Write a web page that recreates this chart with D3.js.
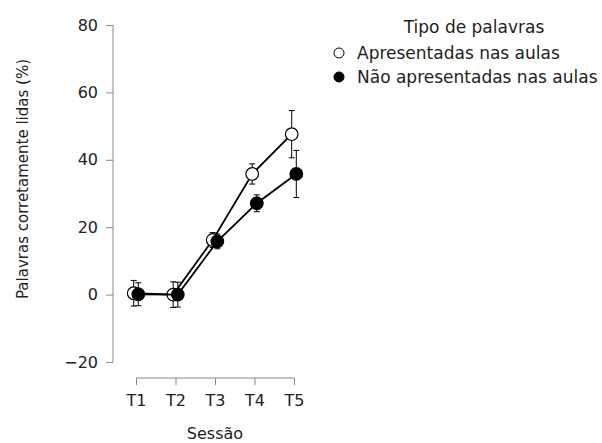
<!DOCTYPE html>
<html>
<head>
<meta charset="utf-8">
<script src="https://cdn.jsdelivr.net/npm/d3@7"></script>
<style>
  html, body { margin: 0; padding: 0; background: #fff; }
  svg { display: block; font-family: "DejaVu Sans", sans-serif; }
</style>
</head>
<body>
<svg id="chart" width="602" height="443"></svg>
<script>
// Sessions and mean percentage of correctly read words, with error bar half-widths
const sessions = ["T1", "T2", "T3", "T4", "T5"];
const seriesNames = ["Apresentadas nas aulas", "Não apresentadas nas aulas"];
const apresentadas = [0.4, 0.0, 16.2, 35.8, 47.6];
const apresentadasErr = [3.8, 3.8, 2.2, 3.0, 7.0];
const naoApresentadas = [0.1, 0.0, 15.8, 27.1, 35.8];
const naoApresentadasErr = [3.4, 3.7, 2.2, 2.5, 7.0];
const yTicks = [-20, 0, 20, 40, 60, 80];

const svg = d3.select("#chart");

const y = d3.scaleLinear().domain([-20, 80]).range([362, 25]);
const x = d3.scalePoint().domain(sessions).range([136, 294]);
const dodge = d3.scalePoint().domain(seriesNames).range([-2.3, 2.3]);

// Y axis
const yAxis = svg.append("g")
  .attr("transform", "translate(113,0)")
  .call(d3.axisLeft(y).tickValues(yTicks).tickSize(7).tickPadding(8)
    .tickFormat(d => d < 0 ? "\u2212" + Math.abs(d) : d));
yAxis.select(".domain").attr("stroke", "#8a8a8a").attr("d", "M0,25V362");
yAxis.selectAll(".tick line").attr("stroke", "#8a8a8a");
yAxis.selectAll(".tick text").attr("font-size", 16).attr("fill", "#222")
  .attr("font-family", "DejaVu Sans, sans-serif");

// X axis
const xAxis = svg.append("g")
  .attr("transform", "translate(0,378)")
  .call(d3.axisBottom(x).tickSize(7).tickPadding(10));
xAxis.select(".domain").attr("stroke", "#8a8a8a").attr("d", "M136,0H294");
xAxis.selectAll(".tick line").attr("stroke", "#8a8a8a");
xAxis.selectAll(".tick text").attr("font-size", 16).attr("fill", "#222")
  .attr("font-family", "DejaVu Sans, sans-serif");

// Axis titles
svg.append("text")
  .attr("x", 215).attr("y", 439)
  .attr("text-anchor", "middle").attr("font-size", 16).attr("fill", "#222")
  .text("Sessão");
svg.append("text")
  .attr("transform", "translate(28,179) rotate(-90)")
  .attr("text-anchor", "middle").attr("font-size", 15).attr("fill", "#222")
  .text("Palavras corretamente lidas (%)");

// Series
const series = [
  { name: seriesNames[0], values: apresentadas, err: apresentadasErr, fill: "#fff" },
  { name: seriesNames[1], values: naoApresentadas, err: naoApresentadasErr, fill: "#000" }
];

const line = d3.line()
  .x(d => x(d.session) + d.dx)
  .y(d => y(d.value));

series.forEach(s => {
  const pts = sessions.map((t, i) => ({
    session: t, value: s.values[i], err: s.err[i], dx: dodge(s.name)
  }));
  const g = svg.append("g");
  g.append("path")
    .datum(pts)
    .attr("d", line)
    .attr("fill", "none")
    .attr("stroke", "#000")
    .attr("stroke-width", 1.8);

  const eb = g.selectAll(".eb").data(pts).join("g").attr("class", "eb");
  eb.append("line")
    .attr("x1", d => x(d.session) + d.dx).attr("x2", d => x(d.session) + d.dx)
    .attr("y1", d => y(d.value - d.err)).attr("y2", d => y(d.value + d.err))
    .attr("stroke", "#000").attr("stroke-width", 1);
  [-1, 1].forEach(sign => {
    eb.append("line")
      .attr("x1", d => x(d.session) + d.dx - 3).attr("x2", d => x(d.session) + d.dx + 3)
      .attr("y1", d => y(d.value + sign * d.err)).attr("y2", d => y(d.value + sign * d.err))
      .attr("stroke", "#000").attr("stroke-width", 1);
  });

  g.selectAll("circle").data(pts).join("circle")
    .attr("cx", d => x(d.session) + d.dx)
    .attr("cy", d => y(d.value))
    .attr("r", 6.3)
    .attr("fill", s.fill)
    .attr("stroke", "#000")
    .attr("stroke-width", 1.2);
});

// Legend
const legend = svg.append("g");
legend.append("text")
  .attr("x", 474).attr("y", 33)
  .attr("text-anchor", "middle").attr("font-size", 17).attr("fill", "#222")
  .text("Tipo de palavras");
const items = legend.selectAll(".item").data(series).join("g")
  .attr("class", "item")
  .attr("transform", (d, i) => `translate(0,${53 + i * 24})`);
items.append("circle")
  .attr("cx", 339).attr("cy", 0).attr("r", 5)
  .attr("fill", d => d.fill).attr("stroke", "#000").attr("stroke-width", 1);
items.append("text")
  .attr("x", 357).attr("y", 6)
  .attr("font-size", 17).attr("fill", "#222")
  .text(d => d.name);
</script>
</body>
</html>
